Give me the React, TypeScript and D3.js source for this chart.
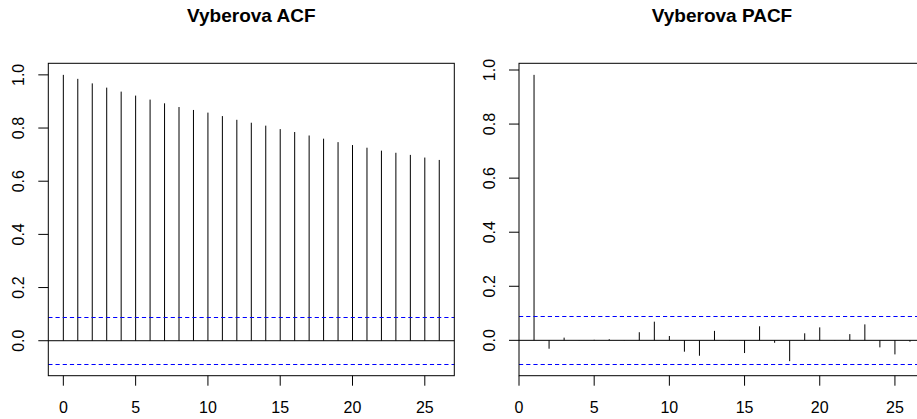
import React from "react";
import * as d3 from "d3";

// Sample autocorrelation, lags 0..26
const acfLags = d3.range(0, 27);
const acfValues = [
  1.0, 0.985, 0.968, 0.952, 0.937, 0.922, 0.907, 0.893, 0.879, 0.868, 0.858,
  0.845, 0.831, 0.82, 0.809, 0.796, 0.785, 0.772, 0.76, 0.747, 0.736, 0.726,
  0.715, 0.707, 0.699, 0.689, 0.68,
];

// Sample partial autocorrelation, lags 1..26
const pacfLags = d3.range(1, 27);
const pacfValues = [
  0.982, -0.031, 0.01, 0.001, 0.002, 0.004, -0.001, 0.03, 0.069, 0.016, -0.042,
  -0.057, 0.035, -0.001, -0.047, 0.052, -0.009, -0.077, 0.026, 0.048, 0.001,
  0.023, 0.059, -0.026, -0.052, -0.005,
];

// Approximate 95% bound ±1.96/sqrt(n)
const ciBound = 0.088;

const titles = ["Vyberova ACF", "Vyberova PACF"];

const FONT = "'Liberation Sans', Arial, Helvetica, sans-serif";

// R-style axis range: data extent widened by 4% on each side
function padded(lo: number, hi: number): [number, number] {
  const d = (hi - lo) * 0.04;
  return [lo - d, hi + d];
}

// snap a coordinate to the pixel centre for crisp 1px lines
const crisp = (v: number) => Math.round(v - 0.5) + 0.5;

type PanelProps = {
  title: string;
  lags: number[];
  values: number[];
  left: number;
  right: number;
  top: number;
  bottom: number;
};

function Panel({ title, lags, values, left, right, top, bottom }: PanelProps) {
  const xExt = d3.extent(lags) as [number, number];
  const x = d3.scaleLinear().domain(padded(xExt[0], xExt[1])).range([left, right]);
  const yLo = Math.min(d3.min(values) as number, -ciBound);
  const yHi = Math.max(d3.max(values) as number, ciBound);
  const y = d3.scaleLinear().domain(padded(yLo, yHi)).range([bottom, top]);

  const xTicks = x.ticks(6);
  const yTicks = d3.range(0, 1.0001, 0.2);
  const fmt = d3.format(".1f");
  const tick = 10;
  const cx = (left + right) / 2;

  return (
    <g>
      <text
        x={cx}
        y={22}
        textAnchor="middle"
        fontFamily={FONT}
        fontWeight="bold"
        fontSize={19}
        fill="#000"
      >
        {title}
      </text>

      {/* spikes */}
      {lags.map((lag, i) => (
        <line
          key={lag}
          x1={x(lag)}
          x2={x(lag)}
          y1={y(0)}
          y2={y(values[i])}
          stroke="#000"
          strokeWidth={1}
        />
      ))}

      {/* zero line */}
      <line x1={left} x2={right} y1={y(0)} y2={y(0)} stroke="#000" strokeWidth={1} />

      {/* confidence bounds */}
      {[ciBound, -ciBound].map((v) => (
        <line
          key={v}
          x1={left}
          x2={right}
          y1={crisp(y(v))}
          y2={crisp(y(v))}
          stroke="#0000ff"
          strokeWidth={1}
          strokeDasharray="4.2 3"
        />
      ))}

      {/* frame */}
      <rect
        x={left}
        y={top}
        width={right - left}
        height={bottom - top}
        fill="none"
        stroke="#000"
        strokeWidth={1}
      />

      {/* x axis */}
      {xTicks.map((t) => (
        <g key={"x" + t}>
          <line x1={x(t)} x2={x(t)} y1={bottom} y2={bottom + tick} stroke="#000" />
          <text
            x={x(t)}
            y={413}
            textAnchor="middle"
            fontFamily={FONT}
            fontSize={16}
            fill="#000"
          >
            {t}
          </text>
        </g>
      ))}

      {/* y axis */}
      {yTicks.map((t) => (
        <g key={"y" + t}>
          <line x1={left - tick} x2={left} y1={y(t)} y2={y(t)} stroke="#000" />
          <text
            transform={`translate(${left - 24},${y(t)}) rotate(-90)`}
            textAnchor="middle"
            fontFamily={FONT}
            fontSize={16}
            fill="#000"
          >
            {fmt(t)}
          </text>
        </g>
      ))}
    </g>
  );
}

export default function App() {
  return (
    <svg
      width={917}
      height={419}
      style={{ position: "absolute", left: 0, top: 0, background: "#fff" }}
    >
      <rect x={0} y={0} width={917} height={419} fill="#fff" />
      <Panel
        title={titles[0]}
        lags={acfLags}
        values={acfValues}
        left={48.3}
        right={454.3}
        top={63.3}
        bottom={375.7}
      />
      <Panel
        title={titles[1]}
        lags={pacfLags}
        values={pacfValues}
        left={519}
        right={925}
        top={63.3}
        bottom={375.7}
      />
    </svg>
  );
}
